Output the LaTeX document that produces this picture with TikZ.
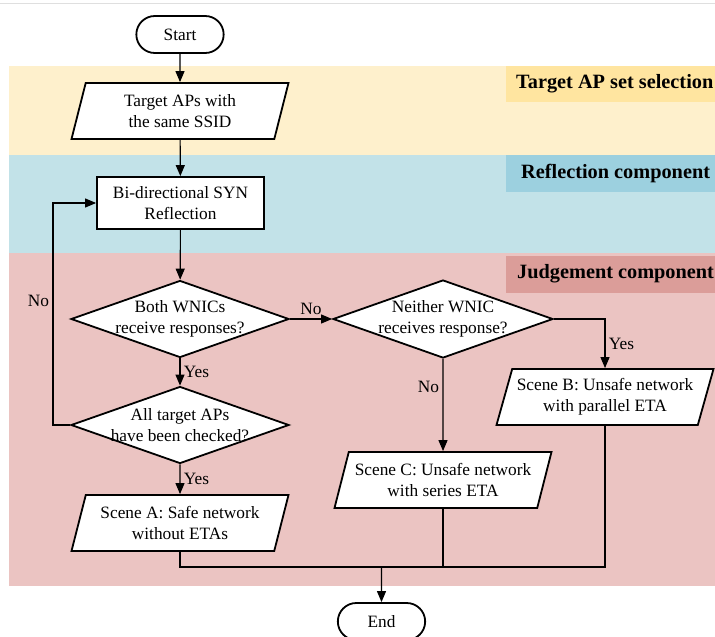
\documentclass[tikz,border=0pt]{standalone}
\usepackage{fontspec}
\setmainfont{Liberation Serif}
\usetikzlibrary{shapes.geometric,shapes.misc,arrows.meta}
\definecolor{jauneFond}{RGB}{254,240,204}
\definecolor{jauneTitre}{RGB}{255,229,160}
\definecolor{bleuFond}{RGB}{194,226,232}
\definecolor{bleuTitre}{RGB}{156,208,223}
\definecolor{roseFond}{RGB}{235,196,194}
\definecolor{roseTitre}{RGB}{219,157,153}
\begin{document}
\begin{tikzpicture}[x=1pt,y=-1pt]
% Styles
\tikzstyle{fleche}=[-{Triangle[length=11pt,width=9pt]},line width=1.1pt]
\tikzstyle{trait}=[-,line width=1.1pt]
\tikzstyle{texte}=[font=\fontsize{17.3}{21}\selectfont,align=center]
\tikzstyle{titre}=[font=\fontsize{20.3}{24}\selectfont\bfseries,anchor=west,inner sep=0pt]
\tikzstyle{terminal}=[texte,draw,fill=white,line width=1.8pt,rounded rectangle,minimum width=94,minimum height=37]
\tikzstyle{donnee}=[texte,draw,fill=white,line width=1.8pt,trapezium,trapezium left angle=68,trapezium right angle=112,trapezium stretches body,minimum width=217,minimum height=56,inner sep=1pt]
\tikzstyle{boite}=[texte,draw,fill=white,line width=1.8pt,rectangle,minimum width=167,minimum height=52]
\tikzstyle{test}=[draw,fill=white,line width=1.8pt,diamond,inner sep=0pt,minimum width=218,minimum height=77]
\tikzstyle{etiquette}=[texte,right]
\tikzstyle{etiquette1}=[texte,left]
\tikzstyle{etiquette2}=[texte,above]
% Dimensions
\def\ColonneA{180}
\def\ColonneB{443}
\def\ColonneC{605}
\def\LigneTest{319}
% Bandes de fond
\useasboundingbox (0,0) rectangle (715,637);
\draw[gray!25,line width=1pt] (0,3) -- (715,3);
\fill[jauneFond] (9,66) rectangle (715,155);
\fill[bleuFond] (9,155) rectangle (715,253);
\fill[roseFond] (9,253) rectangle (715,586);
\fill[jauneTitre] (506,66) rectangle (715,102);
\fill[bleuTitre] (506,155) rectangle (715,192);
\fill[roseTitre] (506,256) rectangle (715,293);
\node[titre] (TitreA) at (516,84) {Target AP set selection};
\node[titre] (TitreB) at (521,174) {Reflection component};
\node[titre] (TitreC) at (517,274) {Judgement component};
% Noeuds
\node[terminal] (Debut) at ({\ColonneA},34.5) {Start};
\node[donnee] (Cible) at ({\ColonneA},111) {Target APs with\\the same SSID};
\node[boite] (Reflexion) at ({\ColonneA+0.5},203) {Bi-directional SYN\\Reflection};
\node[test,label={[texte]center:Both WNICs\\receive responses?}] (TestA) at ({\ColonneA},{\LigneTest}) {};
\node[test,label={[texte]center:All target APs\\have been checked?}] (TestB) at ({\ColonneA},425) {};
\node[test,minimum width=220,minimum height=78,label={[texte]center:Neither WNIC\\receives response?}] (TestC) at ({\ColonneB},{\LigneTest}) {};
\node[donnee] (ScA) at ({\ColonneA},523) {Scene A: Safe network\\without ETAs};
\node[donnee] (ScC) at ({\ColonneB},480) {Scene C: Unsafe network\\with series ETA};
\node[donnee] (ScB) at ({\ColonneC},397) {Scene B: Unsafe network\\with parallel ETA};
\node[terminal] (Fin) at (381.5,621.5) {End};
\coordinate (Boucle) at (53,203);
\coordinate (Jonction) at (381.5,567);
% Arcs
\draw[fleche] (Debut)--(Cible);
\draw[fleche] (Cible)--(Reflexion);
\draw[fleche] (Reflexion)--(TestA);
\draw[fleche] (TestA.south)-- node[etiquette]{Yes} (TestB.north);
\draw[fleche] (TestA.east)-- node[etiquette2]{No} (TestC.west);
\draw[fleche] (TestB.west)-| node[etiquette1,pos=0.78]{No} (Boucle)--(Reflexion.west);
\draw[fleche] (TestB.south)-- node[etiquette]{Yes} (ScA.north);
\draw[fleche] (TestC.south)-- node[etiquette1,pos=0.3]{No} (ScC.north);
\draw[fleche] (TestC.east)-| node[etiquette,pos=0.75]{Yes} (ScB.north);
\draw[trait] (ScA.south)--(ScA.south |- Jonction)--(ScB.south |- Jonction)--(ScB.south);
\draw[trait] (ScC.south)--(ScC.south |- Jonction);
\draw[fleche] (Jonction)--(Fin);
\end{tikzpicture}
\end{document}
